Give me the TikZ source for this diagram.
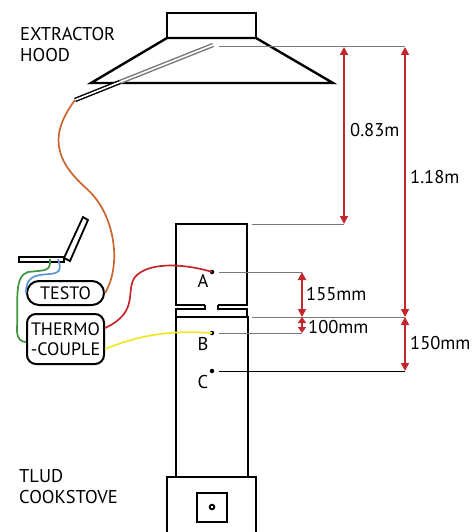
\documentclass[tikz,border=0pt]{standalone}
\usepackage{fontspec}
\setmainfont{PT Sans}
\usetikzlibrary{arrows.meta}
\definecolor{dimred}{RGB}{193,39,45}
\definecolor{wireorange}{RGB}{205,100,45}
\definecolor{wiregreen}{RGB}{60,150,60}
\definecolor{wireblue}{RGB}{90,150,215}
\definecolor{wireyellow}{RGB}{240,230,40}
\definecolor{refgray}{RGB}{120,120,120}
\begin{document}
\begin{tikzpicture}[x=1pt,y=-1pt,
  outline/.style={draw=black,line width=2.4pt,line join=miter},
  refline/.style={draw=refgray,line width=1pt},
  dimarrow/.style={draw=dimred,line width=1.8pt,
    {Triangle[length=8pt,width=8pt]}-{Triangle[length=8pt,width=8pt]}},
  smalldim/.style={draw=dimred,line width=1.8pt,
    {Triangle[length=6pt,width=8pt]}-{Triangle[length=6pt,width=8pt]}},
  wire/.style={line width=1.7pt},
  label/.style={font=\fontsize{18.5}{21}\selectfont,inner sep=0pt},
  dimlabel/.style={font=\fontsize{18.5}{21}\selectfont,inner sep=0pt,anchor=west},
  dot/.style={circle,fill=black,inner sep=0pt,minimum size=4.5pt},
  device/.style={draw=black,line width=2pt,rounded corners=9pt,inner sep=0pt,
    font=\fontsize{18}{21}\selectfont,align=center}]
\useasboundingbox (0,0) rectangle (473,532);

% titles
\node[label,anchor=north west,align=left] (hoodtxt) at (20,27) {EXTRACTOR\\HOOD};
\node[label,anchor=north west,align=left] (stovetxt) at (19,469) {TLUD\\COOKSTOVE};

% extractor hood
\draw[outline] (167,38) rectangle (256,13);
\draw[outline] (167,38) -- (256,38) -- (333,83) -- (91,83) -- cycle;

% probe inside the hood
\coordinate (probetip) at (213,45);
\coordinate (probemid) at (120,82);
\coordinate (probeend) at (75,100);
\draw[refgray,line width=4.5pt] (probetip) -- (probemid);
\draw[white,line width=1.6pt] (probetip) -- (probemid);
\draw[black,line width=4.5pt] (probemid) -- (probeend);
\draw[white,line width=1.6pt] (probemid) -- (probeend);

% chimney, upper section
\draw[outline] (205,305) -- (176,305) -- (176,224) -- (247,224) -- (247,305) -- (218,305);
\draw[outline] (205,305) -- (205,309) -- (176,309) -- (176,317);
\draw[outline] (218,305) -- (218,309) -- (247,309) -- (247,317);
% chimney, lower section
\draw[outline] (176,477) -- (176,317) -- (248,317) -- (248,477);
% stove base
\draw[outline] (167,540) -- (167,477) -- (256,477) -- (256,540);
\draw[outline] (197,493) rectangle (227,522);
\draw[black,line width=1.8pt] (212,507) circle (2.3pt);

% measuring points
\node[dot] (A) at (212,272) {};
\node[dot] (B) at (212,333) {};
\node[dot] (C) at (212,371) {};
\node[label] at (203,281) {A};
\node[label] at (203,344) {B};
\node[label] at (203,382) {C};

% reference lines
\coordinate (hoodref) at (219,47);
\coordinate (hoodrefend) at (405,47);
\coordinate (uppertop) at (252,224);
\coordinate (uppertopend) at (344,224);
\coordinate (Aref) at (302,272);
\coordinate (Bref) at (302,333);
\coordinate (jointref) at (252,317);
\coordinate (jointrefend) at (405,317);
\coordinate (Cref) at (405,371);
\draw[refline] (hoodref) -- (hoodrefend);
\draw[refline] (uppertop) -- (uppertopend);
\draw[refline] ([xshift=7pt]A.center) -- (Aref);
\draw[refline] ([xshift=7pt]B.center) -- (Bref);
\draw[refline] (jointref) -- (jointrefend);
\draw[black,line width=1pt] ([xshift=7pt]C.center) -- (Cref);

% dimensions
\draw[dimarrow] (344,47) -- (uppertopend);
\draw[dimarrow] (hoodrefend) -- (jointrefend);
\draw[dimarrow] (Aref) -- (302,317);
\draw[smalldim] (302,317) -- (Bref);
\draw[dimarrow] (jointrefend) -- (Cref);
\node[dimlabel] at (350,130) {0.83m};
\node[dimlabel] at (410,177) {1.18m};
\node[dimlabel] at (306,294) {155mm};
\node[dimlabel] at (308,327) {100mm};
\node[dimlabel] at (410,343) {150mm};

% instruments
\draw[black,line width=1.8pt] (19,257) rectangle (64,262);
\draw[black,line width=1.8pt] (64,258) -- (70,261) -- (88,220) -- (83,217) -- cycle;
\node[device,minimum width=77pt,minimum height=24pt,rounded corners=12pt]
  (testo) at (65.5,293) {TESTO};
\node[device,minimum width=77pt,minimum height=50pt]
  (thermo) at (65.5,339) {THERMO\\[-1pt]-COUPLE};

% wires
\draw[wireorange,wire] (probeend) .. controls (45,140) and (60,165) .. (88,190)
  .. controls (115,215) and (122,265) .. (testo.east);
\draw[wiregreen,wire] (50,259) .. controls (51,272) and (45,270) .. (28,272)
  .. controls (14,276) and (18,300) .. (17,330)
  .. controls (17,340) and (22,342) .. (thermo.west|-0,342);
\draw[wireblue,wire] (58,259) .. controls (60,266) and (63,273) .. (50,274)
  .. controls (35,275) and (26,276) .. (testo.west);
\draw[dimred,wire] (thermo.east|-0,328) .. controls (140,312) and (125,290) .. (135,277)
  .. controls (150,260) and (190,265) .. (A.center);
\draw[wireyellow,wire] (thermo.east|-0,349) .. controls (140,335) and (170,330) .. (B.center);
\end{tikzpicture}
\end{document}
